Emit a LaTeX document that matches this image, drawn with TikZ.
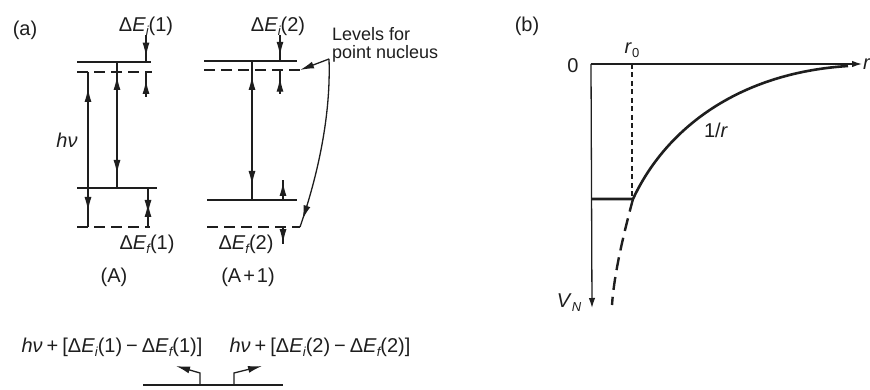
\documentclass[tikz,border=0pt]{standalone}
\usepackage{fontspec}
\setmainfont{Liberation Sans}
\usetikzlibrary{arrows.meta,decorations.markings}
\definecolor{ink}{RGB}{30,30,30}
\newcommand{\sbi}[1]{\raisebox{-4pt}{\fontsize{13}{13}\selectfont\itshape #1}}
\newcommand{\sbu}[1]{\raisebox{-4pt}{\fontsize{13}{13}\selectfont #1}}
\newcommand{\opsp}{\hspace{0.2em}}
\begin{document}
\begin{tikzpicture}[x=1pt,y=-1pt,color=ink,
  lbl/.style={inner sep=0pt,font=\fontsize{20}{21}\selectfont,text=ink},
  lvl/.style={line width=2.6pt,line join=round},
  lvd/.style={line width=2pt,dash pattern=on 11pt off 6pt},
  ar/.style={line width=1.3pt},
  hd/.tip={Latex[length=14pt,width=7pt]},
  fwd/.style={postaction={decorate,decoration={markings,mark=at position #1 with {\arrow{hd}}}}},
  bwd/.style={postaction={decorate,decoration={markings,mark=at position #1 with {\arrowreversed{hd}}}}}]
\path[use as bounding box] (0,0) rectangle (870,390);

% ---------- panel (a), atom A ----------
\coordinate (A1) at (77,62);  \coordinate (A2) at (151,62);
\coordinate (A3) at (77,72);  \coordinate (A4) at (152,72);
\coordinate (A5) at (77,188); \coordinate (A6) at (157,188);
\coordinate (A7) at (77,227); \coordinate (A8) at (150,227);
\draw[lvl] (A1) -- (A2);
\draw[lvd] (A3) -- (A4);
\draw[lvl] (A5) -- (A6);
\draw[lvd] (A7) -- (A8);
\coordinate (h1) at (88,72);  \coordinate (h2) at (88,227);
\draw[ar,bwd=16pt,fwd=-16pt] (h1) -- (h2);
\coordinate (t1) at (117,62); \coordinate (t2) at (117,188);
\draw[ar,bwd=14pt,fwd=-14pt] (t1) -- (t2);
\coordinate (s1) at (146,35); \coordinate (s1b) at (146,62);
\draw[ar,fwd=0.8] (s1) -- (s1b);
\coordinate (s2) at (146,97); \coordinate (s2b) at (146,72);
\draw[ar,fwd=0.68] (s2) -- (s2b);
\coordinate (s3) at (148,188); \coordinate (s3b) at (148,227);
\draw[ar,bwd=15pt,fwd=-13pt] (s3) -- (s3b);

% ---------- atom A+1 ----------
\coordinate (B1) at (204,61);  \coordinate (B2) at (297,61);
\coordinate (B3) at (204,70);  \coordinate (B4) at (300,70);
\coordinate (B5) at (207,200); \coordinate (B6) at (297,200);
\coordinate (B7) at (207,227); \coordinate (B8) at (300,227);
\draw[lvl] (B1) -- (B2);
\draw[lvd] (B3) -- (B4);
\draw[lvl] (B5) -- (B6);
\draw[lvd] (B7) -- (B8);
\coordinate (u1) at (252,61); \coordinate (u2) at (252,200);
\draw[ar,bwd=15pt,fwd=-15pt] (u1) -- (u2);
\coordinate (q1) at (280,35); \coordinate (q1b) at (280,61);
\draw[ar,fwd=0.8] (q1) -- (q1b);
\coordinate (q2) at (280,94); \coordinate (q2b) at (280,70);
\draw[ar,fwd=0.68] (q2) -- (q2b);
\coordinate (q3) at (283,200); \coordinate (q3b) at (283,180);
\draw[ar,fwd=0.9] (q3) -- (q3b);
\coordinate (q4) at (283,227); \coordinate (q4b) at (283,244);
\draw[ar,fwd=0.95] (q4) -- (q4b);

% pointer from "Levels for point nucleus"
\coordinate (P) at (329,59);
\draw[ar,-{hd}] (P) -- (B4);
\draw[ar,fwd=-8pt] (P) .. controls (331,115) and (318,175) .. (B8);

% labels panel (a)
\node[lbl] (la) at (25,30) {(a)};
\node[lbl] (dEi1) at (146,26) {Δ\textit{E}\sbi{i}(1)};
\node[lbl] (dEi2) at (278,26) {Δ\textit{E}\sbi{i}(2)};
\node[lbl] (dEf1) at (147,244) {Δ\textit{E}\sbi{f}(1)};
\node[lbl] (dEf2) at (246,244) {Δ\textit{E}\sbi{f}(2)};
\node[lbl] (labA) at (114,277) {(A)};
\node[lbl] (labA1) at (248,277) {(A\hspace{0.1em}+\hspace{0.1em}1)};
\node[lbl] (hnu) at (67,140) {\textit{hν}};
\node[lbl,font=\fontsize{18}{19}\selectfont,align=left,anchor=west] (lev) at (332,45) {Levels for\\[-1pt]point nucleus};

% bottom part
\node[lbl] (b1) at (112,347) {\textit{hν}\opsp+\opsp[Δ\textit{E}\sbi{i}(1)\opsp−\opsp Δ\textit{E}\sbi{f}(1)]};
\node[lbl] (b2) at (320,347) {\textit{hν}\opsp+\opsp[Δ\textit{E}\sbi{i}(2)\opsp−\opsp Δ\textit{E}\sbi{f}(2)]};
\coordinate (g1) at (143,385); \coordinate (g2) at (283,385);
\draw[lvl] (g1) -- (g2);
\coordinate (k1) at (200,385); \coordinate (k1m) at (200,373); \coordinate (k1e) at (176,366);
\draw[ar,-{hd}] (k1) -- (k1m) -- (k1e);
\coordinate (k2) at (234,385); \coordinate (k2m) at (234,373); \coordinate (k2e) at (262,366);
\draw[ar,-{hd}] (k2) -- (k2m) -- (k2e);

% ---------- panel (b) ----------
\node[lbl] (lb) at (527,26) {(b)};
\coordinate (O) at (591,64); \coordinate (R) at (862,64);
\draw[ar,-{Latex[length=10pt,width=6.5pt]}] (O) -- (R);
\node[lbl,anchor=west] (rl) at (863,64) {\textit{r}};
\node[lbl] (zero) at (573,66) {0};
\node[lbl] (r0) at (632,50) {\textit{r}\sbu{0}};
\coordinate (d1) at (632,64); \coordinate (d2) at (632,199);
\draw[ar,dash pattern=on 5pt off 3.5pt] (d1) -- (d2);
\coordinate (V) at (592,308);
\draw[ar,-{Latex[length=10pt,width=6.5pt]}] (O) -- (V);
\node[lbl] (vn) at (569,303) {\textit{V}\sbi{N}};
\coordinate (W1) at (591,199); \coordinate (W2) at (633,199); \coordinate (W3) at (848,66);
\draw[lvl] (W1) -- (W2) .. controls (665,130) and (737,73) .. (W3);
\coordinate (W4) at (612,305);
\draw[line width=2.4pt,dash pattern=on 13pt off 7pt] (W2) .. controls (623,236) and (614,275) .. (W4);
\node[lbl] (inv) at (716,130) {1/\textit{r}};
\end{tikzpicture}
\end{document}
